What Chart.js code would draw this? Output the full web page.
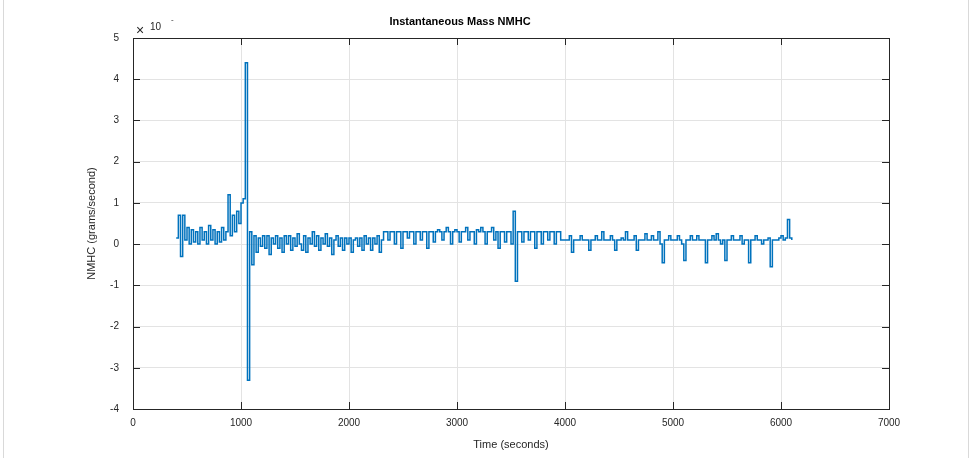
<!DOCTYPE html>
<html>
<head>
<meta charset="utf-8">
<title>Instantaneous Mass NMHC</title>
<script src="https://cdn.jsdelivr.net/npm/chart.js@4/dist/chart.umd.min.js"></script>
<style>
  html, body { margin: 0; padding: 0; background: #fff; }
  #wrap { width: 972px; height: 458px; position: relative; }
</style>
</head>
<body>
<div id="wrap"><canvas id="chart" width="972" height="458"></canvas></div>
<script>
// samples of the logged NMHC mass rate (x 10^-), one every 20 s from 400 s
const sampleStart = 400;
const sampleStep = 20;
const nmhc = [
  0.15, 0.7, -0.3, 0.7, 0.1, 0.4, 0.0, 0.35, 0.05, 0.3,
  0.0, 0.4, 0.1, 0.3, 0.0, 0.45, 0.1, 0.35, 0.0, 0.3,
  0.05, 0.4, 0.1, 0.3, 1.2, 0.2, 0.7, 0.3, 0.8, 0.5,
  1.0, 1.1, 4.4, -3.3, 0.3, -0.5, 0.2, -0.2, 0.15, -0.05,
  0.2, -0.1, 0.2, -0.25, 0.15, 0.0, 0.2, -0.1, 0.15, -0.2,
  0.2, 0.0, 0.2, -0.15, 0.15, -0.05, 0.25, 0.0, -0.15, 0.2,
  -0.2, 0.15, 0.0, 0.3, -0.05, 0.2, -0.15, 0.15, 0.0, 0.25,
  -0.05, 0.15, -0.25, 0.1, 0.2, -0.05, 0.15, -0.15, 0.15, 0.0,
  0.15, -0.2, 0.1, 0.15, -0.05, 0.15, -0.15, 0.2, 0.0, 0.15,
  -0.15, 0.15, 0.0, 0.2, -0.2, 0.1, 0.3, 0.3, 0.1, 0.3,
  0.3, 0.0, 0.3, 0.3, -0.1, 0.3, 0.3, 0.15, 0.3, 0.3,
  0.0, 0.3, 0.3, 0.1, 0.3, 0.3, -0.1, 0.3, 0.3, 0.05,
  0.3, 0.35, 0.3, 0.1, 0.3, 0.4, 0.3, 0.0, 0.3, 0.35,
  0.3, 0.05, 0.3, 0.3, 0.4, 0.1, 0.3, 0.3, 0.0, 0.35,
  0.3, 0.4, 0.3, 0.0, 0.3, 0.3, 0.4, 0.1, 0.3, -0.1,
  0.3, 0.3, 0.05, 0.3, 0.3, 0.0, 0.8, -0.9, 0.3, 0.3,
  0.05, 0.3, 0.3, 0.1, 0.3, 0.3, -0.1, 0.3, 0.3, 0.0,
  0.3, 0.3, 0.1, 0.3, 0.3, 0.0, 0.3, 0.3, 0.1, 0.1,
  0.1, 0.1, 0.2, -0.2, 0.1, 0.1, 0.1, 0.2, 0.1, 0.1,
  0.1, -0.15, 0.1, 0.1, 0.2, 0.1, 0.1, 0.3, 0.1, 0.1,
  0.1, 0.2, 0.1, -0.15, 0.1, 0.1, 0.15, 0.1, 0.3, 0.1,
  0.1, 0.1, 0.2, -0.15, 0.1, 0.1, 0.1, 0.25, 0.1, 0.1,
  0.2, 0.1, 0.1, 0.3, 0.0, -0.45, 0.1, 0.1, 0.2, 0.1,
  0.1, 0.1, 0.2, 0.1, 0.0, -0.4, 0.1, 0.1, 0.2, 0.1,
  0.1, 0.2, 0.1, 0.1, 0.1, -0.45, 0.1, 0.1, 0.2, 0.1,
  0.25, 0.1, 0.0, 0.1, -0.4, 0.1, 0.1, 0.2, 0.1, 0.1,
  0.1, 0.2, 0.0, 0.1, 0.1, -0.45, 0.1, 0.1, 0.2, 0.1,
  0.1, 0.0, 0.1, 0.1, 0.15, -0.55, 0.1, 0.1, 0.1, 0.15,
  0.2, 0.1, 0.15, 0.6, 0.15, 0.1
];
const xTicks = [0, 1000, 2000, 3000, 4000, 5000, 6000, 7000];
const yTicks = [-4, -3, -2, -1, 0, 1, 2, 3, 4, 5];

const chartTitle = "Instantaneous Mass NMHC";
const xTitle = "Time (seconds)";
const yTitle = "NMHC (grams/second)";

const points = nmhc.map((v, i) => ({ x: sampleStart + i * sampleStep, y: v }));

const FONT = "'Liberation Sans', Arial, Helvetica, sans-serif";
const textColor = "#262626";

// matlab style frame, inward ticks, title and axis labels
const decor = {
  id: "decor",
  afterDraw(chart) {
    const ctx = chart.ctx;
    const a = chart.chartArea;
    const xs = chart.scales.x, ys = chart.scales.y;
    ctx.save();
    ctx.strokeStyle = "#262626";
    ctx.lineWidth = 1;
    ctx.strokeRect(Math.round(a.left) + 0.5, Math.round(a.top) + 0.5,
      Math.round(a.right - a.left), Math.round(a.bottom - a.top));
    ctx.beginPath();
    xTicks.forEach(t => {
      const px = Math.round(xs.getPixelForValue(t)) + 0.5;
      ctx.moveTo(px, a.bottom); ctx.lineTo(px, a.bottom - 7);
      ctx.moveTo(px, a.top); ctx.lineTo(px, a.top + 7);
    });
    yTicks.forEach(t => {
      const py = Math.round(ys.getPixelForValue(t)) + 0.5;
      ctx.moveTo(a.left, py); ctx.lineTo(a.left + 7, py);
      ctx.moveTo(a.right, py); ctx.lineTo(a.right - 7, py);
    });
    ctx.stroke();

    ctx.fillStyle = "#000";
    ctx.font = "bold 11px " + FONT;
    ctx.textAlign = "center";
    ctx.textBaseline = "middle";
    ctx.fillText(chartTitle, 460, 22);

    ctx.fillStyle = textColor;
    ctx.font = "11px " + FONT;
    ctx.fillText(xTitle, (a.left + a.right) / 2, 445);
    ctx.save();
    ctx.translate(92, (a.top + a.bottom) / 2);
    ctx.rotate(-Math.PI / 2);
    ctx.fillText(yTitle, 0, 0);
    ctx.restore();

    // exponent label
    ctx.textAlign = "left";
    ctx.font = "14px " + FONT;
    ctx.fillText("\u00d7", 136, 31);
    ctx.font = "10px " + FONT;
    ctx.fillText("10", 150, 27);
    ctx.font = "8px " + FONT;
    ctx.fillText("-", 171, 20);

    // thin page frame
    ctx.strokeStyle = "#d9d9d9";
    ctx.beginPath();
    ctx.moveTo(3.5, 0); ctx.lineTo(3.5, 458);
    ctx.moveTo(968.5, 0); ctx.lineTo(968.5, 458);
    ctx.stroke();
    ctx.restore();
  }
};

new Chart(document.getElementById("chart"), {
  type: "line",
  data: {
    datasets: [{
      data: points,
      stepped: true,
      borderColor: "#0072BD",
      borderWidth: 1.5,
      pointRadius: 0,
      fill: false
    }]
  },
  options: {
    responsive: false,
    animation: false,
    layout: { padding: { left: 0, right: 83, top: 38, bottom: 0 } },
    plugins: { legend: { display: false }, tooltip: { enabled: false } },
    scales: {
      x: {
        type: "linear",
        min: 0, max: 7000,
        afterBuildTicks: s => { s.ticks = xTicks.map(v => ({ value: v })); },
        afterFit: s => { s.height = 49; },
        grid: { color: "#e3e3e3", drawTicks: false },
        border: { display: false },
        ticks: {
          padding: 8, color: textColor, font: { family: FONT, size: 10 },
          callback: v => String(v)
        }
      },
      y: {
        min: -4, max: 5,
        afterBuildTicks: s => { s.ticks = yTicks.map(v => ({ value: v })); },
        afterFit: s => { s.width = 133; },
        grid: { color: "#e3e3e3", drawTicks: false },
        border: { display: false },
        ticks: {
          padding: 14, color: textColor, font: { family: FONT, size: 10 },
          callback: v => String(v)
        }
      }
    }
  },
  plugins: [decor]
});
</script>
</body>
</html>
